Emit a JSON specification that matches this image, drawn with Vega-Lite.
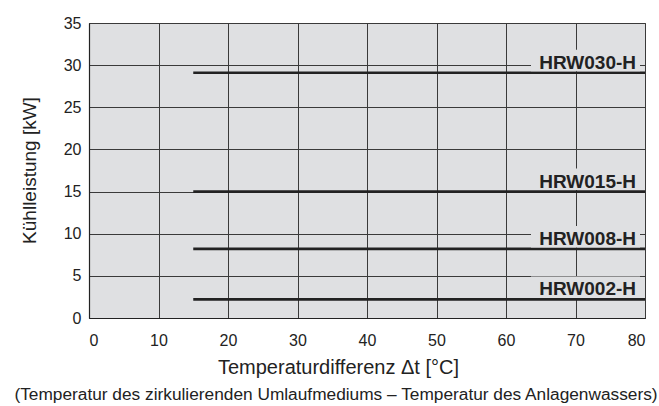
{
  "$schema": "https://vega.github.io/schema/vega-lite/v6.json",
  "autosize": "none",
  "padding": {"left": 89, "top": 23, "right": 14, "bottom": 88},
  "width": 556,
  "height": 295,
  "background": "white",
  "title": {
    "text": "(Temperatur des zirkulierenden Umlaufmediums \u2013 Temperatur des Anlagenwassers)",
    "orient": "bottom",
    "anchor": "middle",
    "frame": "group",
    "baseline": "alphabetic",
    "offset": 23,
    "dx": -31,
    "font": "Liberation Sans",
    "fontSize": 17.3,
    "fontWeight": "normal",
    "color": "#222222"
  },
  "config": {
    "font": "Liberation Sans",
    "view": {"fill": "#dfe0e2", "stroke": "#555555", "strokeWidth": 1},
    "axis": {
      "grid": true,
      "gridColor": "#3a3a3a",
      "gridOpacity": 1,
      "gridWidth": 1,
      "domainColor": "#222222",
      "domainWidth": 1.2,
      "ticks": false,
      "tickSize": 0,
      "labelFont": "Liberation Sans",
      "labelFontSize": 16,
      "labelColor": "#222222",
      "titleFont": "Liberation Sans",
      "titleFontSize": 19,
      "titleFontWeight": "normal",
      "titleColor": "#222222"
    }
  },
  "data": {
    "values": [
      {"model": "HRW030-H", "start": 15, "end": 80, "kw": 29.1},
      {"model": "HRW015-H", "start": 15, "end": 80, "kw": 15.0},
      {"model": "HRW008-H", "start": 15, "end": 80, "kw": 8.2},
      {"model": "HRW002-H", "start": 15, "end": 80, "kw": 2.2}
    ]
  },
  "layer": [
    {
      "mark": {"type": "rule", "color": "#222222", "strokeWidth": 2.7},
      "encoding": {
        "x": {
          "field": "start", "type": "quantitative",
          "scale": {"domain": [0, 80], "nice": false, "zero": false},
          "axis": {
            "values": [0, 10, 20, 30, 40, 50, 60, 70, 80],
            "labelPadding": 14,
            "title": "Temperaturdifferenz \u0394t [\u00b0C]",
            "titleX": 249,
            "titleY": 55,
            "titleAlign": "center",
            "titleAnchor": null,
            "titleBaseline": "alphabetic",
            "titleFontSize": 20
          }
        },
        "x2": {"field": "end"},
        "y": {
          "field": "kw", "type": "quantitative",
          "scale": {"domain": [0, 35], "nice": false},
          "axis": {
            "values": [0, 5, 10, 15, 20, 25, 30, 35],
            "labelPadding": 8,
            "title": "K\u00fchlleistung [kW]",
            "titleX": -54,
            "titleY": 147,
            "titleAngle": 270,
            "titleAlign": "center",
            "titleBaseline": "alphabetic"
          }
        }
      }
    },
    {
      "mark": {"type": "rect", "color": "#dfe0e2", "xOffset": -114, "x2Offset": -5, "yOffset": -23, "y2Offset": -1.5},
      "encoding": {
        "x": {"datum": 80, "type": "quantitative"},
        "x2": {"datum": 80},
        "y": {"field": "kw", "type": "quantitative"},
        "y2": {"field": "kw"}
      }
    },
    {
      "mark": {"type": "text", "align": "right", "baseline": "alphabetic", "dx": -9, "dy": -4, "fontSize": 19, "fontWeight": "bold", "color": "#222222", "font": "Liberation Sans"},
      "encoding": {
        "x": {"datum": 80, "type": "quantitative"},
        "y": {"field": "kw", "type": "quantitative"},
        "text": {"field": "model"}
      }
    }
  ]
}
